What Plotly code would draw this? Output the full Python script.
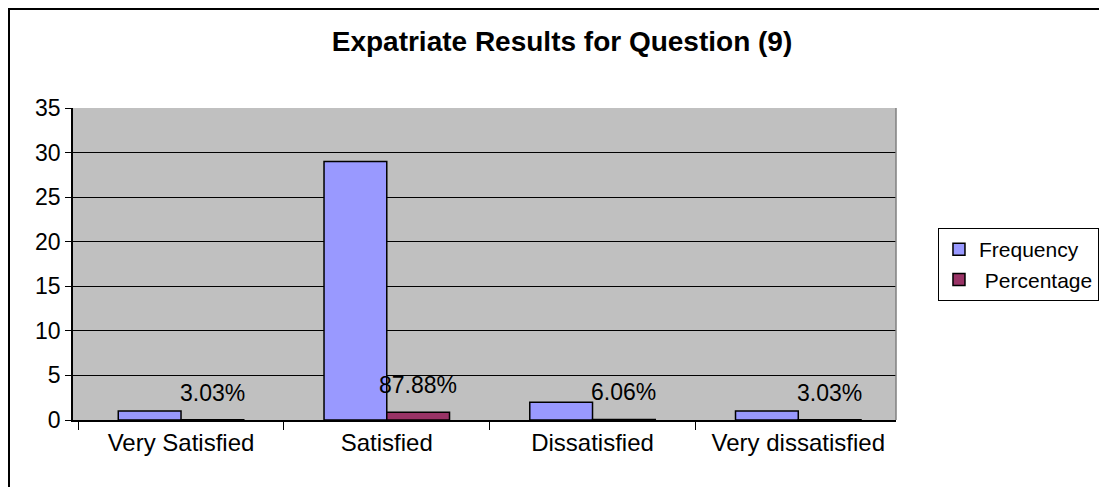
import plotly.graph_objects as go

# Data
categories = ["Very Satisfied", "Satisfied", "Dissatisfied", "Very dissatisfied"]
frequency = [1, 29, 2, 1]
percentage = [0.0303, 0.8788, 0.0606, 0.0303]
pct_labels = ["3.03%", "87.88%", "6.06%", "3.03%"]

font_family = "Liberation Sans, Arial, sans-serif"

# figure / plot-area geometry (page body adds an 8px margin; the extra
# width on the right is simply cut off by the window)
W, H = 1130, 487
L, T = 65, 100
plot_w, plot_h = 823, 312
R = W - L - plot_w
B = H - T - plot_h
bargap = 0.39
bar_px = plot_w / len(categories) * (1 - bargap) / 2

fig = go.Figure()

fig.add_trace(go.Bar(
    x=categories,
    y=frequency,
    name="Frequency",
    marker=dict(color="#9999FF", line=dict(color="black", width=1.5)),
))

fig.add_trace(go.Bar(
    x=categories,
    y=percentage,
    name=" Percentage",
    marker=dict(color="#993366", line=dict(color="black", width=1.5)),
))

# percentage labels sit a little above the percentage bars
for cat, val, lab in zip(categories, percentage, pct_labels):
    fig.add_annotation(
        x=cat, y=val, text=lab, showarrow=False,
        xref="x", yref="y",
        xanchor="center", yanchor="bottom",
        xshift=bar_px / 2, yshift=12,
        font=dict(size=23, color="black", family=font_family),
    )

fig.update_layout(
    width=W,
    height=H,
    margin=dict(l=L, r=R, t=T, b=B, pad=0),
    paper_bgcolor="white",
    plot_bgcolor="#C0C0C0",
    barmode="group",
    bargap=bargap,
    bargroupgap=0,
    font=dict(family=font_family, size=23, color="black"),
    title=dict(
        text="<b>Expatriate Results for Question (9)</b>",
        x=554 / W,
        xanchor="center",
        y=1 - 33 / H,
        yanchor="middle",
        font=dict(size=28, family=font_family, color="black"),
    ),
    legend=dict(
        x=1.051,
        y=0.615,
        xanchor="left",
        yanchor="top",
        bgcolor="white",
        bordercolor="black",
        borderwidth=1,
        font=dict(size=21),
        traceorder="normal",
    ),
    showlegend=True,
    shapes=[
        dict(
            type="rect", xref="paper", yref="paper",
            x0=(1 - L) / plot_w, x1=1.5,
            y0=-0.4, y1=(plot_h + T - 1) / plot_h,
            line=dict(color="black", width=2),
            fillcolor="rgba(0,0,0,0)",
            layer="below",
        ),
        dict(
            type="line", xref="paper", yref="paper",
            x0=1, x1=1, y0=0, y1=1,
            line=dict(color="#808080", width=1.5),
        ),
    ],
)

fig.update_xaxes(
    range=[-0.525, 3.475],
    showline=True,
    linecolor="black",
    linewidth=1.5,
    ticks="outside",
    tickson="boundaries",
    ticklen=8,
    tickcolor="black",
    showgrid=False,
    tickfont=dict(size=24),
)

fig.update_yaxes(
    range=[0, 35],
    dtick=5,
    showline=True,
    linecolor="black",
    linewidth=1.5,
    ticks="outside",
    ticklen=6,
    tickcolor="black",
    showgrid=True,
    gridcolor="black",
    gridwidth=1,
    zeroline=False,
    tickfont=dict(size=23),
)

fig.write_html("out.html")
